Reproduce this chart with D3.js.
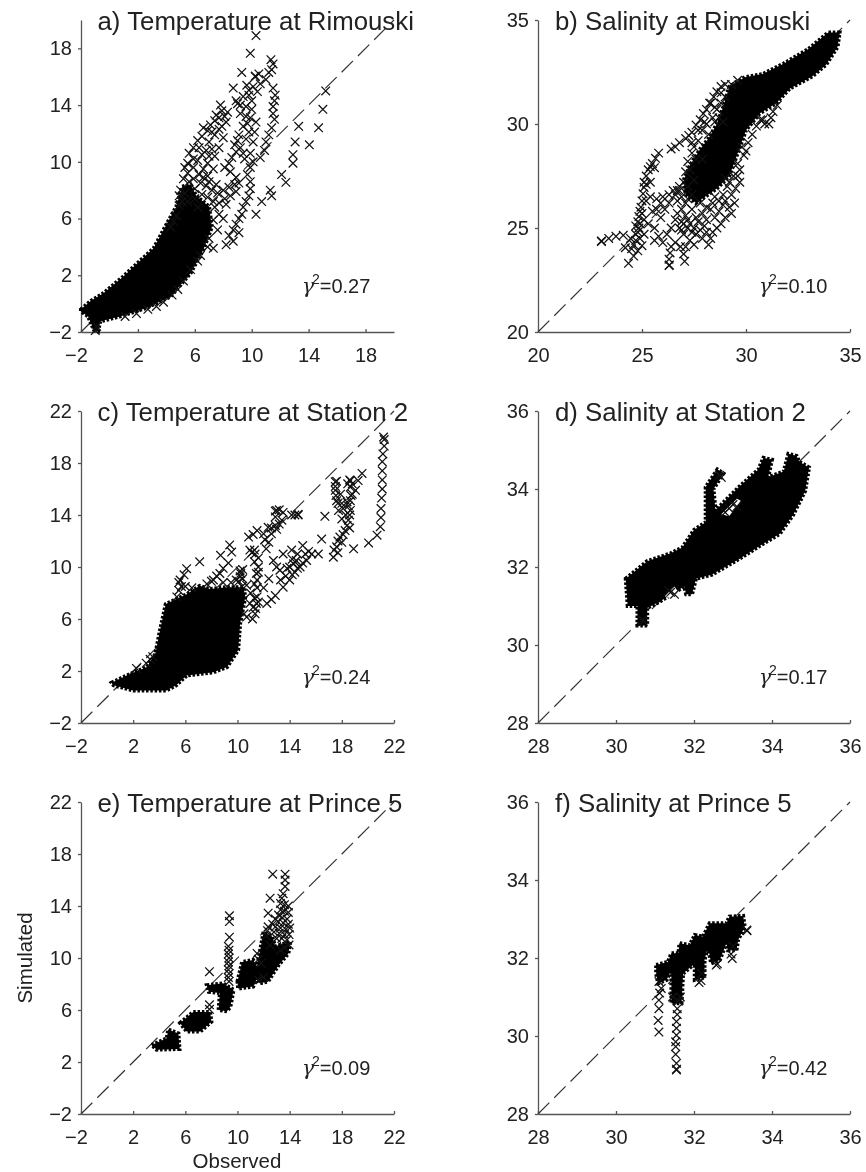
<!DOCTYPE html>
<html><head><meta charset="utf-8">
<script src="https://cdn.jsdelivr.net/npm/d3@7"></script>
<style>html,body{margin:0;padding:0;background:#fff}svg{display:block;filter:blur(0.5px)}text{font-family:"Liberation Sans",Arial,sans-serif;fill:#222}</style>
</head><body><div id="chart"></div>
<script>
// Chart labels and axes
const panelTitles = ["a) Temperature at Rimouski","b) Salinity at Rimouski","c) Temperature at Station 2","d) Salinity at Station 2","e) Temperature at Prince 5","f) Salinity at Prince 5"];
const panelGammas = ["0.27","0.10","0.24","0.17","0.09","0.42"];
const panelDomains = [[-2,20],[20,35],[-2,22],[28,36],[-2,22],[28,36]];
const panelTicks = [[-2,2,6,10,14,18],[20,25,30,35],[-2,2,6,10,14,18,22],[28,30,32,34,36],[-2,2,6,10,14,18,22],[28,30,32,34,36]];

// Outlines [observed, simulated] of the saturated, fully overplotted cores
const coreA = [[[-2,-0.4],[-1.3,0.2],[-0.4,0.75],[0.98,1.92],[1.7,2.6],[3.1,3.9],[3.8,5.2],[4.7,6.85],[5.1,8.25],[5.7,8.4],[6.1,7.6],[7,6.85],[7.2,5.4],[6.6,3.8],[5.7,2.15],[4.3,0.5],[2.6,-0.3],[0.75,-0.9],[-0.65,-1.25],[-0.8,-1.95],[-1.1,-1.85],[-1.5,-0.9],[-2,-0.55]]];
const coreB = [[[34.5,34.4],[33.95,34.4],[33,33.6],[31.8,32.9],[30.8,32.4],[29.95,32.25],[29.2,31.8],[28.9,30.8],[28.6,30],[28.2,29.3],[27.8,28.8],[27.3,28],[27,27.3],[27.1,26.6],[27.6,26.2],[28.6,26.9],[29.2,27.5],[30,29.7],[30.65,30.5],[31.45,31],[32.1,31.7],[33.2,32.3],[33.85,32.85],[34.4,33.7]]];
const coreC = [[[0.35,1.1],[1.5,1.65],[3.05,2.3],[3.7,3.3],[4.05,5.1],[4.5,7.15],[6.1,7.9],[7.1,8.55],[7.9,8.3],[9.2,8.45],[10.45,8.45],[10.6,7.7],[10.2,5.65],[10.05,3.6],[9.2,2.3],[8.15,1.9],[6.1,1.65],[5.3,0.9],[4.55,0.5],[2,0.5],[0.5,0.9]]];
const coreD = [[[30.25,31.7],[30.8,32.15],[31.4,32.35],[31.7,32.5],[32,32.95],[32.3,33.15],[32.3,34.05],[32.6,34.5],[32.75,34.4],[32.5,34],[32.55,33.45],[33.15,34.05],[33.65,34.5],[33.78,34.8],[34,34.75],[33.9,34.3],[34.3,34.45],[34.42,34.9],[34.63,34.85],[34.7,34.7],[34.95,34.55],[34.85,33.95],[34.55,33.35],[34.2,32.85],[33.7,32.55],[33.15,32.2],[32.45,31.8],[32.05,31.7],[31.95,31.3],[31.8,31.3],[31.75,31.5],[31.1,31.1],[30.8,30.95],[30.8,30.5],[30.55,30.5],[30.55,31],[30.3,31]]];
const coreE = [[[3.42,3.3],[4.57,3.82],[4.7,4.5],[5.47,4.2],[5.55,3],[3.8,2.95]],[[5.6,5],[6.6,5.85],[7.9,5.85],[8,5.1],[7.15,4.35],[6.1,4.35]],[[7.65,7.9],[8.9,8.05],[9.7,7.55],[9.45,6.25],[9.2,5.9],[8.55,6],[8.65,7.3],[7.8,7.4]],[[10,8.2],[10.35,9.7],[11.2,9.85],[11.75,8.95],[11.2,7.8],[10.05,7.65]],[[11.35,8.55],[12,12],[12.65,11.65],[12.9,10.9],[14.05,11.25],[13.9,10.35],[13.15,9.45],[12.35,8.2],[11.7,8.05]]];
const coreF = [[[31.03,31.82],[31.33,31.9],[31.42,32.12],[31.6,32.12],[31.63,32.38],[31.89,32.33],[32.02,32.59],[32.23,32.55],[32.4,32.89],[32.83,32.89],[32.91,33.06],[33.26,33.08],[33.3,32.8],[33.13,32.46],[33.09,32.2],[32.87,32.2],[32.83,32.38],[32.66,31.95],[32.44,31.86],[32.36,32.29],[32.27,31.95],[32.27,31.5],[32.02,31.44],[32.02,31.86],[31.72,31.6],[31.68,30.84],[31.42,30.84],[31.42,31.7],[31.3,31.44],[31.08,31.35],[31.03,31.6]]];
// Sparse gaps inside the core of panel d
const gapsD = [[[32.7,33.35],[33.1,33.75],[33.2,33.7],[32.9,33.3]],[[31.25,31.25],[31.5,31.5],[31.6,31.35],[31.4,31.2]]];

// Individually legible points [observed, simulated]
const pointsA = [[10.3,18.9],[9.9,17.65],[11.35,17.2],[11.5,16.9],[11.4,16.5],[9.3,16.3],[10.25,16],[10.25,16.05],[11,15.8],[9.65,15.4],[10.4,14.95],[9.8,15.05],[8.7,15.2],[11.65,14.7],[11.6,14.3],[11.5,13.9],[15.2,15],[15,13.7],[14.7,12.4],[14.05,11.2],[13.3,12.5],[13.05,11.4],[12.9,10.5],[12.9,9.9],[12.1,9.1],[12.4,8.55],[11.3,8],[11.4,7.6],[10.7,7.2],[10.3,6.3],[8.7,4.4],[8.2,4.15],[9.1,5],[7.3,3.9],
[5,8],[5.2,8.8],[5.3,9.6],[5.5,9.9],[5.6,10.6],[5.9,11],[6.2,11.5],[6.5,11.8],[6.9,12.2],[7.1,12.6],[7.4,12.9],[7.7,13.1],[7.9,13.6],[7.8,14],[8.1,13.2],[8.2,12.8],[7.7,12.3],[7.4,11.9],[7.2,12.1],[7,11.4],[7.2,10.9],[7,10.4],[6.9,9.9],[6.6,9.5],[6.2,10.1],[5.9,10.2],[6.3,9.1],[6.9,9],[7.3,9.5],[5.5,9.2],[5.9,8.8],[6.4,8.5],[6.8,8.3],[7.2,8],[7.6,7.8],[8,8],[8.4,8.2],[8.8,8.4],[9.1,8.5],[8.9,8.9],[8.5,9.3],[8.1,9.6],[8.4,9.9],[8.6,10.3],[8.9,10.7],[9.2,11],[9,11.5],[9.1,11.9],[9.6,11.6],[9.8,12.1],[9.7,12.7],[9.9,13.1],[10,13.7],[9.6,13.9],[10,14.3],[9,14.1],[8.9,14.3],[9.2,14],[9.4,14.6],
[10.1,10],[10.6,10.3],[10.9,10.8],[11,11.4],[11.2,11.9],[11.4,12.4],[11.6,13],[11.5,13.4],[9.9,9.6],[9.7,9.1],[9.9,8.6],[9.9,8.1],[9.8,7.6],[9.6,7.2],[9.4,6.8],[9.3,6.3],[9.1,6],[8.9,5.6],[8.7,5.2],[8.4,4.8],[8,6],[8.2,7],[7.4,6.8],[7.7,6.3],[7.3,5.9],[7.6,5.2],[7,4.6],[6.9,4],[6.4,3.4],[6.2,3],[5.7,2.4],[5.2,1.6],[4.8,1],[4.4,0.6],[3.8,0.1],[3.3,-0.2],[2.7,-0.4],[1.9,-0.7],[1.1,-0.9],[6.2,6.8],[6,7.4],[5.5,7.2],[4.7,6.2],[4.9,6.9],[4.5,5.8],[4.3,5.4],[-1,-1.9],[-0.9,-1.6],
[5.3,7.8],[5.6,8.6],[6,8.1],[6.5,7.7],[6.9,7.5],[7.3,7.2],[7.7,7.1],[8.1,7.4],[8.5,7.6],[8.9,7.9],[6.6,8.9],[7,8.6],[7.5,8.4],[6.5,10.5],[6.3,11],[6.8,10.8],[7.4,10.4],[7.7,11],[8,11.7],[7.9,12.5],[8.3,13.5],[7.5,13.3],[6.6,12.4],[5.9,9.6],[5.1,7.2],[4.9,7.6],[8.8,11.2],[9.4,10.6],[9.5,10.2],[9.9,10.6],[10.1,11.4],[10.2,12.1],[10.3,12.8],[9.4,12.5],[9.6,13.2],[9.2,13.4],[9.8,14.7],[10.1,15.3],[10.6,15.5],[10.5,16.2],[11.2,16.3],[11.5,15.2]];
const pointsB = [[23.05,24.35],[23.05,24.38],[23.4,24.5],[23.75,24.6],[24.1,24.65],[24.45,24.5],[24.2,24.05],[24.35,23.3],[24.6,23.65],[24.5,24],[24.8,23.9],[25,24.15],[24.9,24.5],[24.7,24.7],[24.85,25],
[24.7,25.1],[24.8,25.3],[24.85,25.55],[24.9,25.8],[24.95,26],[25,26.3],[25.05,26.65],[25.1,26.95],[25.1,27.2],[25.2,27.5],[25.3,27.8],[25.4,27.95],[25.5,28.1],[25.65,28.35],[25.8,28.6],[26.4,28.8],[26.6,28.9],[26.8,29.1],[27.1,29.3],[27.25,29.45],[27.4,29.6],[27.6,29.95],[27.8,30.2],[27.95,30.5],[28.1,30.7],[28.25,31],[28.45,31.3],[28.6,31.55],[28.8,31.8],[29,31.9],
[25.4,26.5],[25.7,26.4],[26,26.5],[26.3,26.6],[26.5,26.8],[26.7,26.8],[25.3,25.2],[25.5,25.8],[25.7,25.9],[25.9,25.5],[26.1,25.9],[26.3,26.2],[25.6,25],[25.8,24.6],[25.6,24.4],[26,24.3],[26.2,24.7],[26.4,25],[26.6,25.4],[26.3,23.2],[26.32,23.22],[26.3,23.5],[26.35,23.8],[26.4,24.1],[26.6,24.3],[26.85,24.1],[27.05,23.4],[27,23.75],[27.1,24.1],[27.3,24.4],[27.5,24.2],[27,24.7],[27.2,25],[26.8,25],[26.9,25.3],[27.1,25.6],[27.3,25.2],[27.5,25],[27.6,25.5],[27.4,25.9],[27.1,26.2],[26.9,26.5],[26.7,26.3],[27.8,24.9],[28,25.1],[28.2,24.2],[28.3,24.5],[28.4,24.8],[28.6,25],[28.8,25.2],[29,25.5],[29.3,25.7],[29.2,26],[29.45,26.2],[29.3,26.6],[29.5,26.9],[29.1,27],[29.4,27.5],[29.7,27.8],[29.6,28.1],[29.9,28.5],[29.8,28.9],
[30.9,30],[31.1,30],[30.8,30.2],[31.2,30.3],[31.3,30.6],[31.5,30.9],[27.7,29.2],[27.9,29.7],[28.1,30],[28.4,30.3],[28.6,30.7],[28.8,31],[28.2,29.5],[27.5,28.9],[27.6,28.3],[27.3,27.8],[27.5,27.3],[27.2,27],
[27.7,25.3],[27.9,25.7],[28.1,25.4],[28.3,25.9],[28.5,25.5],[28.7,25.8],[28.9,26.1],[28.1,26],[27.8,26.2],[27.9,24.5],[28.1,24.8],[27.6,24.7],[27.4,24.8],[27,25.2],[27.2,25.4],[26.9,24.9],[26.7,25.7],[26.9,25.9],[27.2,26.4],[26.8,27],[27,27.2],[26.6,26.6],[28.9,26.6],[28.7,26.3],[29,27.4],[29.2,27.2],[29.7,27.2],[29.6,27.5],[30,28.7],[30.1,29.1],[30.3,29.5],[30.5,29.9],[30.7,30.2],[26.8,26.8],[27.4,26.6],[29,26.3],[28.4,26.2],[28.5,26.5],[27.9,28.3],[28.3,31],[28.7,30.3],[28.9,30.1],[28.5,30.1],[27.2,28.2],[27.4,28.6],[27.4,29.1],[27.1,27.7],[27.7,29.7],[28,30.1],[28.5,30.8],[29,31.3],[28.8,31.5],[29.3,31.9],[29.6,32.1],[25.9,26.2],[25.2,26.3],[25.4,27.2],[25.2,27.1],[25.6,27.9],[25.1,25.4],[25,25.7],[24.9,25.2],[24.7,24.4],[24.8,24.8],[24.6,24.2],[25.1,24.7]];
const pointsC = [[5.6,9],[6.1,9.87],[7.1,10.4],[5.7,8.5],[5.35,7.7],[5.9,9.4],[5.5,8.8],[8.7,10.9],[9.4,11.7],[9.55,11.15],[8.65,9.5],[8.15,9],[7.65,8.7],[8.9,9.9],[9.3,10.3],[10.85,12.3],[11.5,12.8],[12,12.55],[12.35,13.05],[12.9,13.85],[13,14.35],[13.5,14.2],[14.15,14],[14.65,14],[14.65,14.05],[14.4,14],[13.4,13.6],[12.6,12.55],[12.9,14.3],[13.2,14.4],
[10.2,9.25],[10.35,8.5],[10.4,9.8],[10.2,9.7],[10.95,7.2],[11.35,6.4],[10.7,6.15],[11.5,7.7],[11.5,9],[11.6,10],[11.35,11],[10.95,11.3],[11.5,8.4],[11.45,7.2],[11.3,11.3],[11.6,10.7],[11.1,11.1],
[12.25,7.2],[12.9,7.8],[13.5,8.45],[14,9],[14.4,9.6],[14.8,10],[15.3,10.5],[16.2,11],[16.45,12.15],[16.7,13.9],[14.15,11.3],[14.3,10.25],[13.5,11],[12.75,10.5],[13.25,9.75],[12.4,9.1],[12,8.4],[13.8,9.9],[15,11.65],[15.7,11],[15.45,11.2],[13,10],
[17.35,10.75],[17.6,11.55],[17.85,12.3],[18.25,12.8],[18.5,13.6],[18.65,14.35],[18.65,15.1],[18.65,16.15],[18.65,16.65],[18.6,16.7],[17.5,16.55],[17.6,16.6],[17.5,15.9],[17.6,15.1],[17.75,14.35],[18,13.7],[18.9,11.4],[19.05,15.9],[19.55,17.2],[19.25,16.65],[17.4,11.3],[17.7,12],[18.1,14.5],[18.4,15],[18.3,14],[18.8,15.6],[18.6,13],
[20.05,11.85],[20.7,12.45],[20.95,13.1],[21,13.8],[21,14.5],[21.05,15.3],[21.1,16],[21.1,16.7],[21.1,17.4],[21.1,18.1],[21.15,18.7],[21.25,19.3],[21.25,19.8],[21.2,20],[3,2.6],[2.25,2.2],[3.5,3.1],[3.3,2.9],
[5.5,8.2],[6,8.5],[6.5,8.4],[8.4,9.3],[8,8.9],[8.9,8.8],[9.5,8.8],[9.9,9],[10.25,9.5],[10.4,9.1],[10.1,8.9],[10.7,8.6],[11,8],[11.2,6.9],[11.4,6.8],[11.15,6],[10.5,6.4],[11.3,10.4],[11.45,9.5],[11.6,9.6],[11.3,8.7],[11.6,7.3],[11.3,7.6],[12.6,7.5],[14.6,9.9],[14.2,9.4],[14,10],[14.2,10.6],[14.5,10.5],[14.6,11],[15,10.3],[15.2,11],[13.7,9.3],[13.3,9],[12.2,11.4],[12.4,11.9],[12.1,12.1],[12.6,13],[13,12.9],[13.2,13.3],[12.9,13.2],[11.2,12.5],[17.5,16.2],[17.55,15.5],[17.7,14.9],[18,14.9],[17.9,15.6],[18.5,14.7],[18.7,15.5],[18.6,14],[18.45,16.4],[18.8,16.4],[18.4,13.2],[18.1,12.5],[18,11.9],[17.7,11.1]];
const pointsD = [[32.65,34.35],[32.7,34.3],[31.4,31.35],[31.5,31.3],[31.35,31.4],[32.9,33.5],[33,33.6],[32.8,33.4],[33.1,33.55],[30.7,30.6],[30.68,30.65]];
const pointsE = [[7.85,8.95],[7.85,6.4],[7.85,6.05],[9.38,13.25],[9.38,12.8],[9.38,11.6],[9.3,10.9],[9.35,10.6],[9.3,10.3],[9.35,10],[9.3,9.7],[9.35,9.4],[9.3,9.1],[9.35,8.8],[9.3,8.5],[9.35,8.2],
[12.7,16.45],[13.65,16.45],[13.65,16],[13.65,15.5],[13.5,14.95],[13.4,14.6],[12.5,14.6],[12.35,13.45],[12.35,12.4],[11.5,10.35],[11.6,9.9],[11.8,9.6],[13.3,14.2],[13.6,14.1],[13.9,14],[13.3,13.7],[13.6,13.6],[13.9,13.5],[13.15,13.3],[13.45,13.1],[13.8,13],[13.1,12.8],[13.5,12.7],[13.9,12.6],[12.9,12.4],[13.3,12.3],[13.7,12.2],[14,12.3],[12.8,12],[13.2,11.9],[13.6,11.8],[13.95,11.8],[13,11.5],[13.4,11.5],[13.8,11.4],[12.7,12.6],[12.9,13],[12.2,11.7],[12.3,12.1],[12.5,11],[13.3,10.6],[13.6,10.8],[13.95,11],[11.6,8.3],[12,8.5]];
const pointsF = [[31.1,30.1],[31.08,30.4],[31.1,30.7],[31.1,30.92],[31.12,31.1],[31.16,31.22],[31.55,29.13],[31.55,29.15],[31.55,29.3],[31.53,29.53],[31.53,29.73],[31.53,29.85],[31.55,30.02],[31.55,30.2],[31.55,30.37],[31.57,30.55],[31.57,30.7],[31.6,30.9],[33.36,32.7],[33.35,32.72],[32.57,31.82],[32.6,31.85],[32.13,31.37],[32.18,31.42],[32.2,31.6],[32.98,31.99],[32.95,32.1],[33,32.3],[31.1,31.4],[31.45,31],[31.65,31]];

const panelCores = [coreA,coreB,coreC,coreD,coreE,coreF];
const panelGaps = [[],[],[],gapsD,[],[]];
const panelPoints = [pointsA,pointsB,pointsC,pointsD,pointsE,pointsF];

const W = 866, H = 1172;
const columnX = [[81,394],[538,850]];
const rowY = [[20,332],[411,723],[802,1114]];
const svg = d3.select("#chart").append("svg").attr("width",W).attr("height",H);
const fmt = v => String(v).replace("-","\u2212");
const cross = d3.symbol(d3.symbolTimes,50);
const ink = "#111", axisInk = "#555";

panelTitles.forEach((title,i)=>{
  const cx = columnX[i%2], ry = rowY[Math.floor(i/2)];
  const dom = panelDomains[i];
  const x = d3.scaleLinear().domain(dom).range(cx);
  const y = d3.scaleLinear().domain(dom).range([ry[1],ry[0]]);
  const g = svg.append("g");

  // x axis
  const ax = g.append("g").attr("transform",`translate(0,${ry[1]})`)
    .call(d3.axisBottom(x).tickValues(panelTicks[i]).tickFormat(fmt).tickSizeOuter(0).tickSizeInner(-3));
  ax.selectAll("text").attr("font-size",20).attr("fill","#222").attr("font-family","Liberation Sans").attr("y",16)
    .attr("dx",d=>d<0?-5:0);
  // y axis
  const ay = g.append("g").attr("transform",`translate(${cx[0]},0)`)
    .call(d3.axisLeft(y).tickValues(panelTicks[i]).tickFormat(fmt).tickSizeOuter(0).tickSizeInner(3).tickPadding(6));
  ay.selectAll("text").attr("font-size",20).attr("fill","#222").attr("font-family","Liberation Sans");
  g.selectAll(".domain,.tick line").attr("stroke",axisInk).attr("stroke-width",1.3);

  // identity line
  g.append("line").attr("x1",x(dom[0])).attr("y1",y(dom[0])).attr("x2",x(dom[1])).attr("y2",y(dom[1]))
    .attr("stroke","#333").attr("stroke-width",1.2).attr("stroke-dasharray","16 7");

  // saturated core, with a serrated fringe like the crosses at its edge
  const line = d3.line().x(d=>x(d[0])).y(d=>y(d[1]));
  g.append("path").attr("d",panelCores[i].map(r=>line(r)+"Z").join(""))
    .attr("fill","#000").attr("stroke","#000").attr("stroke-width",4).attr("stroke-dasharray","2.5 1.8");
  g.append("path").attr("d",panelGaps[i].map(r=>line(r)+"Z").join(""))
    .attr("fill","#fff");

  // points
  g.append("g").selectAll("path").data(panelPoints[i]).join("path")
    .attr("d",cross).attr("transform",d=>`translate(${x(d[0])},${y(d[1])})`)
    .attr("fill","none").attr("stroke",ink).attr("stroke-width",1.25);

  // title
  g.append("text").attr("x",cx[0]+(i%2?17:16.5)).attr("y",ry[0]+10).attr("font-size",25.8).text(title);

  // gamma
  const t = g.append("text").attr("x",cx[0]+221).attr("y",ry[0]+273).attr("font-size",20);
  t.append("tspan").attr("font-family","DejaVu Serif").attr("font-style","italic").text("\u03b3");
  t.append("tspan").attr("dy",-9).attr("dx",-2).attr("font-size",14).text("2");
  t.append("tspan").attr("dy",9).text("="+panelGammas[i]);
});

svg.append("text").attr("transform","translate(32,958) rotate(-90)").attr("text-anchor","middle").attr("font-size",20.5).text("Simulated");
svg.append("text").attr("x",237).attr("y",1168).attr("text-anchor","middle").attr("font-size",20.5).text("Observed");
</script></body></html>
